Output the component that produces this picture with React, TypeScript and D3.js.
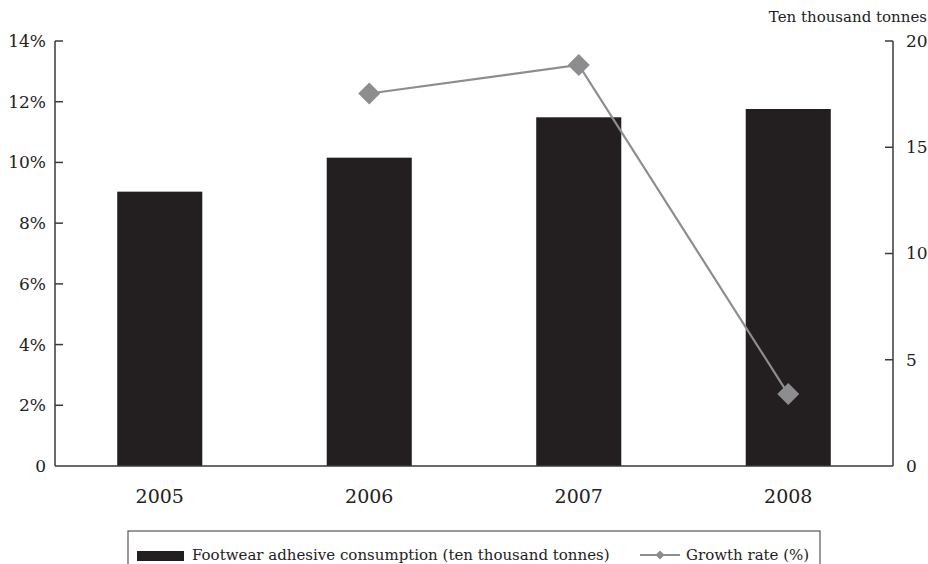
import React from "react";
import * as d3 from "d3";

const years = ["2005", "2006", "2007", "2008"];
const consumption = [12.91, 14.51, 16.41, 16.8];
const growth: (number | null)[] = [null, 12.27, 13.21, 2.37];
const leftTicks = [0, 2, 4, 6, 8, 10, 12, 14];
const rightTicks = [0, 5, 10, 15, 20];

const W = 928;
const H = 564;
const M = { left: 55, right: 893, top: 41, bottom: 466 };
const FONT = "'DejaVu Serif', serif";
const BAR = "#231f20";
const LINE = "#8d8d8f";
const AXIS = "#3a3a3a";

export default function App() {
  const x = d3.scaleBand<string>().domain(years).range([M.left, M.right]).paddingInner(0.594).paddingOuter(0.297);
  const yL = d3.scaleLinear().domain([0, 14]).range([M.bottom, M.top]);
  const yR = d3.scaleLinear().domain([0, 20]).range([M.bottom, M.top]);
  const cx = (y: string) => (x(y) as number) + x.bandwidth() / 2;

  const pts = years
    .map((y, i) => ({ y, v: growth[i] }))
    .filter((d) => d.v !== null) as { y: string; v: number }[];
  const line = d3
    .line<{ y: string; v: number }>()
    .x((d) => cx(d.y))
    .y((d) => yL(d.v));

  const diamond = (px: number, py: number, r: number) =>
    `M${px},${py - r}L${px + r},${py}L${px},${py + r}L${px - r},${py}Z`;

  return (
    <svg
      width={W}
      height={H}
      style={{ position: "absolute", left: 0, top: 0, display: "block", background: "#fff", fontFamily: FONT }}
    >
      {/* bars */}
      {years.map((y, i) => (
        <rect
          key={y}
          x={x(y)}
          y={yR(consumption[i])}
          width={x.bandwidth()}
          height={M.bottom - yR(consumption[i])}
          fill={BAR}
        />
      ))}

      {/* axes */}
      <line x1={M.left} x2={M.left} y1={M.top} y2={M.bottom} stroke={AXIS} strokeWidth={1.5} />
      <line x1={M.right} x2={M.right} y1={M.top} y2={M.bottom} stroke={AXIS} strokeWidth={1.5} />
      <line x1={M.left} x2={M.right} y1={M.bottom} y2={M.bottom} stroke={AXIS} strokeWidth={1.5} />

      {leftTicks.map((t) => (
        <g key={"l" + t}>
          {t > 0 && <line x1={M.left} x2={M.left + 8} y1={yL(t)} y2={yL(t)} stroke={AXIS} strokeWidth={1.5} />}
          <text x={M.left - 9} y={yL(t)} dy="0.35em" textAnchor="end" fontSize={17} fill="#222">
            {t === 0 ? "0" : `${t}%`}
          </text>
        </g>
      ))}
      {rightTicks.map((t) => (
        <g key={"r" + t}>
          {t > 0 && <line x1={M.right - 8} x2={M.right} y1={yR(t)} y2={yR(t)} stroke={AXIS} strokeWidth={1.5} />}
          <text x={M.right + 13} y={yR(t)} dy="0.35em" textAnchor="start" fontSize={17} fill="#222">
            {t}
          </text>
        </g>
      ))}
      <text x={927} y={22} textAnchor="end" fontSize={15} fill="#222">
        Ten thousand tonnes
      </text>

      {years.map((y) => (
        <text key={"x" + y} x={cx(y)} y={503} textAnchor="middle" fontSize={19} fill="#222">
          {y}
        </text>
      ))}

      {/* growth line */}
      <path d={line(pts) || ""} fill="none" stroke={LINE} strokeWidth={2.2} />
      {pts.map((d) => (
        <path key={"m" + d.y} d={diamond(cx(d.y), yL(d.v), 11)} fill={LINE} />
      ))}

      {/* legend */}
      <rect x={128} y={531} width={692} height={40} fill="#fff" stroke="#555" strokeWidth={1.2} />
      <rect x={137} y={551} width={47} height={10} fill={BAR} />
      <text x={192} y={560} fontSize={15} fill="#222">
        Footwear adhesive consumption (ten thousand tonnes)
      </text>
      <line x1={640} x2={680} y1={555} y2={555} stroke={LINE} strokeWidth={2} />
      <path d={diamond(660, 555, 4.5)} fill={LINE} />
      <text x={686} y={560} fontSize={15} fill="#222">
        Growth rate (%)
      </text>
    </svg>
  );
}
